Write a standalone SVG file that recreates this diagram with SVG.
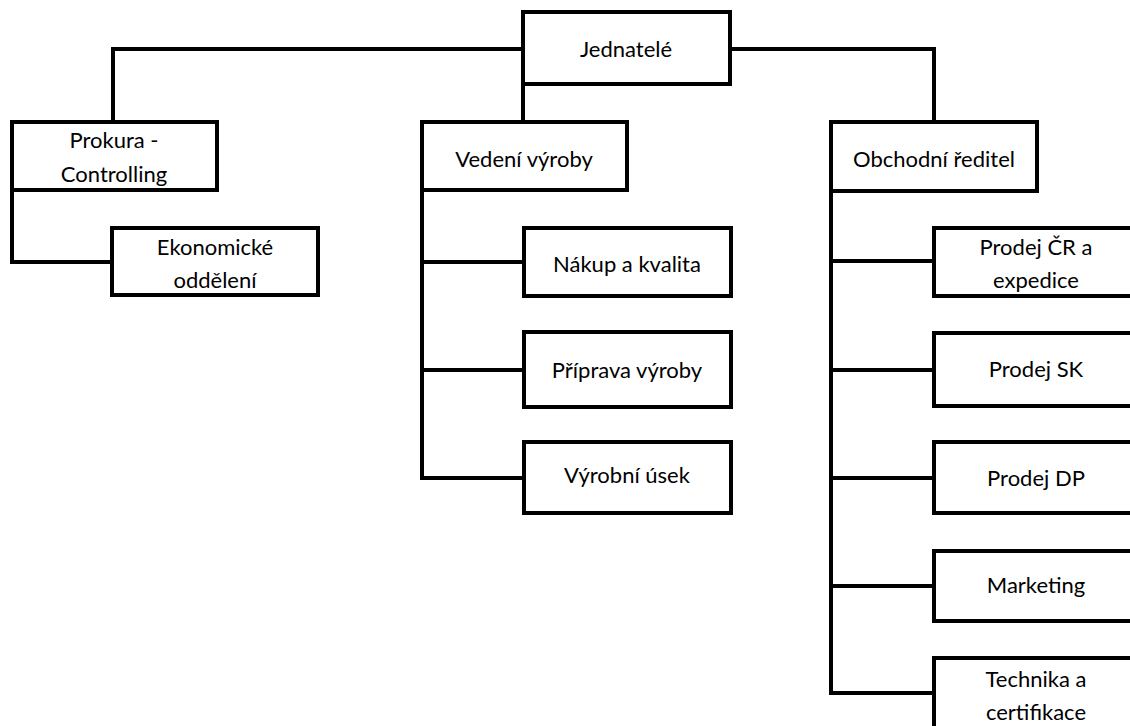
<svg xmlns="http://www.w3.org/2000/svg" width="1130" height="726" viewBox="0 0 1130 726">
<style>
.box{fill:#fff;stroke:#000;stroke-width:4}
.ln{fill:none;stroke:#000;stroke-width:4;stroke-linejoin:miter;stroke-linecap:square}
text{font-family:Lato,"Liberation Sans",sans-serif;font-size:22px;fill:#000;text-anchor:middle}
</style>
<rect width="1130" height="726" fill="#fff"/>
<g id="connectors">
<path class="ln" d="M113,122 V49 H934 V122"/>
<path class="ln" d="M523,84 V122"/>
<path class="ln" d="M12,190 V262 H112"/>
<path class="ln" d="M422,190 V478 H524 M422,262 H524 M422,370 H524"/>
<path class="ln" d="M831,191 V693 H934 M831,261 H934 M831,370 H934 M831,478 H934 M831,586 H934"/>
</g>
<g id="jednatele"><rect class="box" x="523" y="12" width="207" height="72"/><text x="626" y="57">Jednatelé</text></g>
<g id="prokura"><rect class="box" x="12" y="122" width="205" height="68"/><text x="114" y="148">Prokura -</text><text x="114" y="182">Controlling</text></g>
<g id="vedeni"><rect class="box" x="422" y="122" width="205" height="68"/><text x="524" y="167">Vedení výroby</text></g>
<g id="obchodni"><rect class="box" x="831" y="122" width="206" height="69"/><text x="934" y="167">Obchodní ředitel</text></g>
<g id="ekonomicke"><rect class="box" x="112" y="228" width="206" height="67"/><text x="215" y="255">Ekonomické</text><text x="215" y="288">oddělení</text></g>
<g id="nakup"><rect class="box" x="524" y="228" width="207" height="68"/><text x="627" y="272">Nákup a kvalita</text></g>
<g id="priprava"><rect class="box" x="524" y="332" width="207" height="75"/><text x="627" y="378">Příprava výroby</text></g>
<g id="vyrobni"><rect class="box" x="524" y="442" width="207" height="71"/><text x="627" y="483">Výrobní úsek</text></g>
<g id="prodej-cr"><rect class="box" x="934" y="228" width="206" height="68"/><text x="1036" y="255">Prodej ČR a</text><text x="1036" y="288">expedice</text></g>
<g id="prodej-sk"><rect class="box" x="934" y="333" width="206" height="73"/><text x="1036" y="377">Prodej SK</text></g>
<g id="prodej-dp"><rect class="box" x="934" y="442" width="206" height="71"/><text x="1036" y="486">Prodej DP</text></g>
<g id="marketing"><rect class="box" x="934" y="551" width="206" height="70"/><text x="1036" y="593">Marketing</text></g>
<g id="technika"><rect class="box" x="934" y="658" width="206" height="80"/><text x="1036" y="687">Technika a</text><text x="1036" y="720">certifikace</text></g>
</svg>
